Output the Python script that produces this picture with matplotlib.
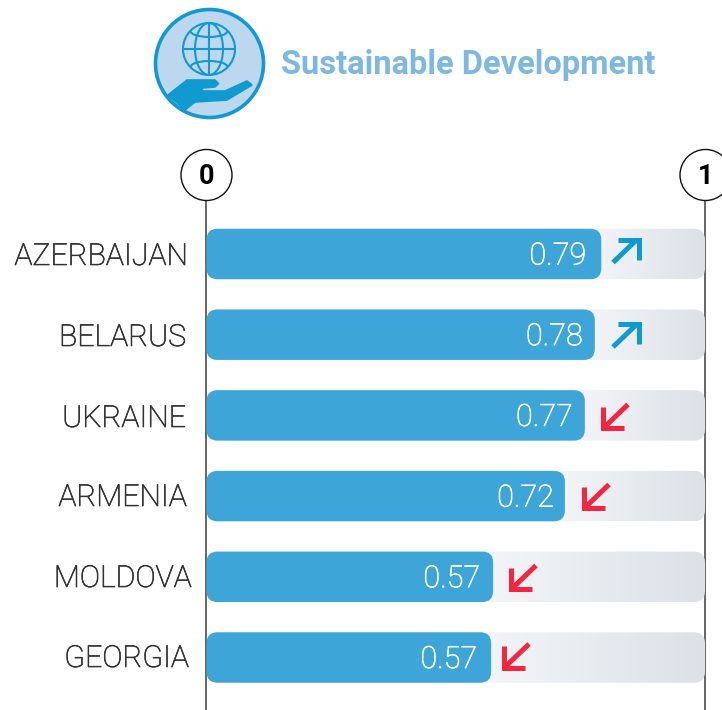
import numpy as np
import matplotlib
matplotlib.use('Agg')
import matplotlib.pyplot as plt
import matplotlib.patheffects as pe
from matplotlib.patches import Circle, Ellipse, FancyBboxPatch, Polygon, Arc

plt.rcParams['font.family'] = ['Roboto', 'DejaVu Sans']

countries = ['AZERBAIJAN', 'BELARUS', 'UKRAINE', 'ARMENIA', 'MOLDOVA', 'GEORGIA']
value_labels = ['0.79', '0.78', '0.77', '0.72', '0.57', '0.57']
bar_lengths = [0.792, 0.779, 0.759, 0.719, 0.575, 0.571]
trend = ['up', 'up', 'down', 'down', 'down', 'down']
title = 'Sustainable Development'

W, H = 722, 710
X0, X1 = 206.5, 705      # pixel of 0 and 1
Y0, ROW = 254, 80.7      # pixel of first row, row spacing
UNIT = X1 - X0

fig = plt.figure(figsize=(W / 100, H / 100), dpi=100)

# bars axes: x is the score, y is the row
bx = fig.add_axes([0, 0, 1, 1], facecolor='none')
bx.axis('off')
xlim = (-X0 / UNIT, (W - X0) / UNIT)
ylim = ((H - Y0) / ROW, -Y0 / ROW)

# pixel axes for the decoration, on top
ax = fig.add_axes([0, 0, 1, 1], facecolor='none')
ax.set_xlim(0, W)
ax.set_ylim(H, 0)
ax.axis('off')

# axis lines (behind the bars) and end circles
for px, lab in zip([206, 705], ['0', '1']):
    bx.plot([(px - X0) / UNIT] * 2, [(190 - Y0) / ROW, (H - Y0) / ROW], color='#3c3c3c', lw=1.1,
            zorder=1, solid_capstyle='butt')
    ax.add_patch(Circle((px + 0.5, 175), 25.5, fc='white', ec='#111111', lw=1.0, zorder=2))
    ax.text(px + 0.5, 176.5, lab, fontsize=19.5, fontweight='bold', color='black',
            ha='center', va='center', zorder=3)

# icon
line_c = '#0f9ad1'
ax.add_patch(Circle((209.5, 63.5), 54, fc='#bdd7ee', ec=line_c, lw=2.6))
gx, gy, gr = 209, 49, 26
ax.add_patch(Circle((gx, gy), gr, fc='none', ec=line_c, lw=1.5))
ax.add_patch(Ellipse((gx, gy), 28, 2 * gr, fc='none', ec=line_c, lw=1.5))
ax.plot([gx, gx], [gy - gr, gy + gr], color=line_c, lw=1.5)
ax.plot([gx - gr, gx + gr], [gy, gy], color=line_c, lw=1.5)
ax.add_patch(Arc((gx, gy - 18), 37, 12, theta1=0, theta2=180, fc='none', ec=line_c, lw=1.5))
ax.add_patch(Arc((gx, gy + 18), 37, 12, theta1=180, theta2=360, fc='none', ec=line_c, lw=1.5))
hand = [(168, 95), (187, 80), (215, 80), (218.5, 83.5), (215, 87), (202, 88), (202, 91), (225, 91),
        (247, 81), (252, 85), (227, 100), (195, 102), (185, 110)]
ax.add_patch(Polygon(hand, closed=True, fc=line_c, ec=line_c, lw=1.2, joinstyle='round'))

ax.text(281, 65, title, fontsize=23.5, fontweight='bold', color='#7db8e0', va='center', ha='left')

# country names
name_right = [188, 186, 186, 187, 192, 189]
name_y = [257, 338, 419, 498, 579, 659]
for c, nx, ny in zip(countries, name_right, name_y):
    ax.text(nx, ny, c, fontsize=21.8, fontweight='light', color='#333333', ha='right', va='center',
            path_effects=[pe.withStroke(linewidth=0.5, foreground='#333333')])

# bars
grad = np.linspace(0, 1, 256).reshape(1, -1)
cmap = matplotlib.colors.LinearSegmentedColormap.from_list('track', ['#f3f5f8', '#dce1e8'])
r = 11 / UNIT
h = 50.5 / ROW
asp = UNIT / ROW
val_gap = [15, 12, 12, 11, 13, 14]
arrow_left = [613, 613, 601, 582, 509, 502]
arrow_mid = [250.5, 335, 416.5, 496.5, 577.5, 656]
for i, v in enumerate(bar_lengths):
    track = FancyBboxPatch((0, i - h / 2), 1, h, boxstyle=f'round,pad=0,rounding_size={r}',
                           mutation_aspect=asp, fc='none', ec='none', zorder=2)
    bx.add_patch(track)
    im = bx.imshow(grad, extent=(v - 0.02, 1, i - h / 2, i + h / 2), aspect='auto', cmap=cmap, zorder=2)
    im.set_clip_path(track)
    bx.add_patch(FancyBboxPatch((0, i - h / 2), v, h, boxstyle=f'round,pad=0,rounding_size={r}',
                                mutation_aspect=asp, fc='#3da5d8', ec='none', zorder=3))
    bx.text(v - val_gap[i] / UNIT, i + 2 / ROW, value_labels[i], fontsize=22, fontweight='light',
            color='white', ha='right', va='center', zorder=4,
            path_effects=[pe.withStroke(linewidth=0.5, foreground='white')])
    # trend arrow, drawn in pixels
    if trend[i] == 'up':
        shaft = [(0, 12), (24, -11)]
        head = [(5, -11), (26, -11), (26, 9)]
        col = '#0f9ad1'
    else:
        shaft = [(27, -12), (3, 11)]
        head = [(2, -10), (2, 11.5), (23, 11.5)]
        col = '#f2263f'
    for seg in (shaft, head):
        ax.plot([arrow_left[i] + p[0] for p in seg], [arrow_mid[i] + p[1] for p in seg], color=col,
                lw=3.6, solid_capstyle='butt', solid_joinstyle='miter', zorder=4)

bx.set_xlim(*xlim)
bx.set_ylim(*ylim)

plt.savefig('out.png', dpi=100)
